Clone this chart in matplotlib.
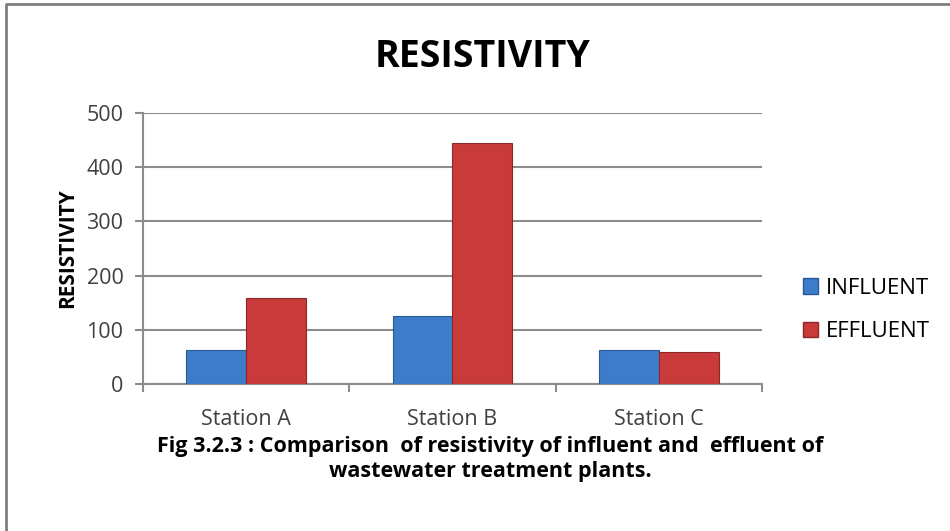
import matplotlib.pyplot as plt
from matplotlib.lines import Line2D
from matplotlib.patches import Patch
import numpy as np

stations = ['Station A', 'Station B', 'Station C']
influent = [63, 125, 63]
effluent = [159, 444, 60]
series_names = ['INFLUENT', 'EFFLUENT']
yticks = [0, 100, 200, 300, 400, 500]

blue = '#3D7CC9'
red = '#C93A3A'
grey = '#8C8C8C'

plt.rcParams['font.family'] = ['Open Sans', 'DejaVu Sans']

fig = plt.figure(figsize=(9.5, 5.31), dpi=100)
ax = fig.add_axes([0.1505, 0.2768, 0.6515, 0.5102])

x = np.arange(len(stations))
w = 0.29
ax.bar(x - w / 2, influent, w, color=blue, edgecolor='#2A5A96', linewidth=0.8, zorder=3)
ax.bar(x + w / 2, effluent, w, color=red, edgecolor='#8E2828', linewidth=0.8, zorder=3)

ax.set_xlim(-0.5, 2.5)
ax.set_ylim(0, 500)
ax.set_yticks(yticks)
ax.set_xticks(x)
ax.set_xticklabels(stations, fontsize=15.5, color='#404040')
ax.tick_params(axis='x', length=0, pad=18)
ax.set_xticks([-0.5, 0.5, 1.5, 2.5], minor=True)
ax.tick_params(axis='x', which='minor', length=6, width=1.5, color=grey, direction='out')
ax.tick_params(axis='y', labelsize=15.5, labelcolor='#404040', length=6, width=1.5, color=grey, pad=8)
ax.grid(axis='y', color=grey, linewidth=1.5, zorder=0)
for s in ['top', 'right']:
    ax.spines[s].set_visible(False)
for s in ['left', 'bottom']:
    ax.spines[s].set_color(grey)
    ax.spines[s].set_linewidth(1.5)

ax.set_ylabel('RESISTIVITY', fontsize=15, fontweight='bold', labelpad=6)

fig.text(0.508, 0.893, 'RESISTIVITY', ha='center', va='center', fontsize=27, fontweight='bold')

handles = [Patch(facecolor=blue, edgecolor='#2A5A96'), Patch(facecolor=red, edgecolor='#8E2828')]
fig.legend(handles, series_names, loc='center left', bbox_to_anchor=(0.845, 0.416),
           frameon=False, fontsize=16, handlelength=0.7, handleheight=0.7,
           handletextpad=0.35, labelspacing=1.0, borderpad=0, borderaxespad=0)

fig.text(0.516, 0.136, 'Fig 3.2.3 : Comparison  of resistivity of influent and  effluent of\nwastewater treatment plants.',
         ha='center', va='center', fontsize=15.5, fontweight='bold', linespacing=1.25)

fig.add_artist(Line2D([0.0065, 0.0065, 1.0], [0.0, 0.993, 0.993], color='#7F7F7F', linewidth=2))

fig.savefig('out.png', dpi=100)
